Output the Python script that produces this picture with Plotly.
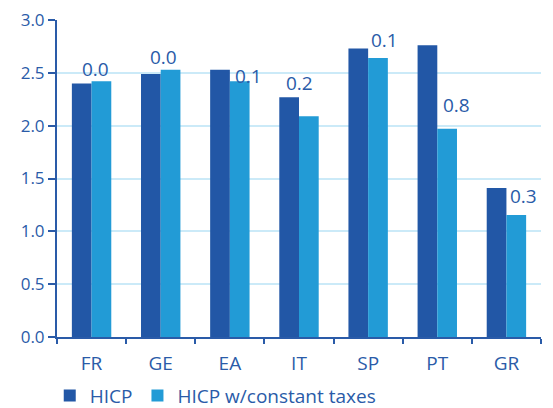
import plotly.graph_objects as go

categories = ["FR", "GE", "EA", "IT", "SP", "PT", "GR"]
hicp = [2.40, 2.49, 2.53, 2.27, 2.73, 2.76, 1.41]
hicp_const_tax = [2.42, 2.53, 2.42, 2.09, 2.64, 1.97, 1.155]
diff_labels = ["0.0", "0.0", "0.1", "0.2", "0.1", "0.8", "0.3"]
y_ticks = [0.0, 0.5, 1.0, 1.5, 2.0, 2.5, 3.0]

DARK = "#2257A6"
LIGHT = "#229BD6"
TEXT = "#2A5BA8"
GRID = "#CBEAF8"
FONT = "Open Sans"

# label offsets (pixels) relative to top-centre of the light bar
label_dx = [-6, -7, 9, -10, 6, 9, 7]
label_dy = [12, 13, 5, 33, 18, 24, 19]

fig = go.Figure()
fig.add_bar(x=categories, y=hicp, name="HICP", marker_color=DARK, marker_line_width=0)
fig.add_bar(x=categories, y=hicp_const_tax, name="HICP w/constant taxes",
            marker_color=LIGHT, marker_line_width=0)

for i, (c, v, t) in enumerate(zip(categories, hicp_const_tax, diff_labels)):
    fig.add_annotation(x=c, y=v, text=t, showarrow=False, xref="x", yref="y",
                       xanchor="center", yanchor="middle",
                       xshift=label_dx[i] + 10, yshift=label_dy[i],
                       font=dict(family=FONT, size=19, color=TEXT))

fig.update_layout(
    width=553, height=408,
    margin=dict(l=57, r=12, t=20, b=71, autoexpand=False),
    paper_bgcolor="white", plot_bgcolor="white",
    barmode="group", bargap=0.43, bargroupgap=0,
    font=dict(family=FONT, size=17, color=TEXT),
    showlegend=True,
    legend=dict(orientation="h", x=-0.015, xanchor="left", y=-0.185, yanchor="middle",
                font=dict(family=FONT, size=19, color=TEXT),
                itemwidth=30, tracegroupgap=0, traceorder="normal"),
)
fig.update_xaxes(showline=True, linecolor=TEXT, linewidth=2, ticks="outside",
                 tickson="boundaries", ticklen=5, tickcolor=TEXT, tickwidth=1.5,
                 ticklabelstandoff=8,
                 showgrid=False, automargin=False, tickfont=dict(size=19, color=TEXT))
fig.update_yaxes(range=[0, 3.0], tickvals=y_ticks, tickformat=".1f",
                 showline=True, linecolor=TEXT, linewidth=2, ticks="outside",
                 ticklen=7, tickcolor=TEXT, tickwidth=1.5,
                 showgrid=True, gridcolor=GRID, gridwidth=1.5, automargin=False,
                 zeroline=False, tickfont=dict(size=17, color=TEXT))

fig.write_html("out.html", config={"displayModeBar": False},
               post_script="document.body.style.margin='0';")
